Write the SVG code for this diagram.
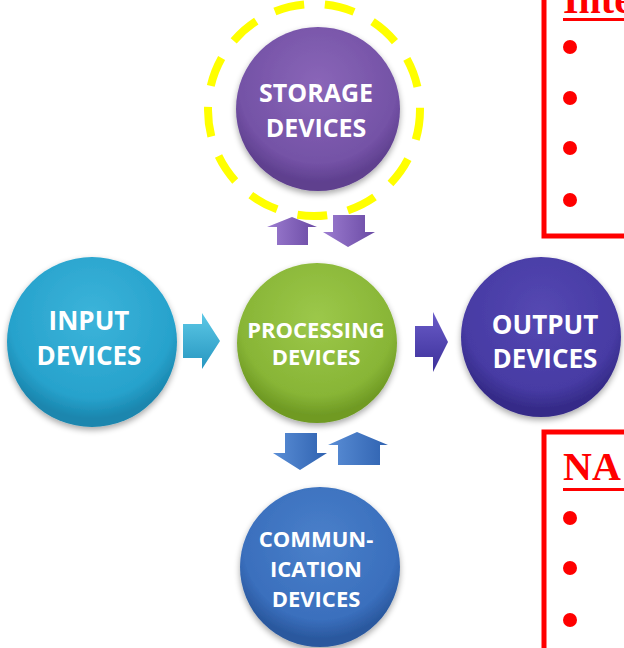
<svg xmlns="http://www.w3.org/2000/svg" width="624" height="648" viewBox="0 0 624 648">
<defs>
<radialGradient id="gStor" cx="50%" cy="35%" r="60%"><stop offset="0" stop-color="#8a66b8"/><stop offset="0.8" stop-color="#7452a6"/><stop offset="1" stop-color="#5e3f8e"/></radialGradient>
<radialGradient id="gIn" cx="50%" cy="35%" r="60%"><stop offset="0" stop-color="#3cb4da"/><stop offset="0.8" stop-color="#27a2cc"/><stop offset="1" stop-color="#1a86ae"/></radialGradient>
<radialGradient id="gProc" cx="50%" cy="35%" r="60%"><stop offset="0" stop-color="#9cc84a"/><stop offset="0.8" stop-color="#88b536"/><stop offset="1" stop-color="#6f9a24"/></radialGradient>
<radialGradient id="gOut" cx="50%" cy="35%" r="60%"><stop offset="0" stop-color="#5548b2"/><stop offset="0.8" stop-color="#473ba4"/><stop offset="1" stop-color="#352b88"/></radialGradient>
<radialGradient id="gCom" cx="50%" cy="35%" r="60%"><stop offset="0" stop-color="#4a80ca"/><stop offset="0.8" stop-color="#3a6fbd"/><stop offset="1" stop-color="#2a589e"/></radialGradient>
<linearGradient id="aCyan" x1="0" y1="0" x2="0" y2="1"><stop offset="0" stop-color="#5cc8e6"/><stop offset="1" stop-color="#2696c0"/></linearGradient>
<linearGradient id="aPur" x1="0" y1="0" x2="1" y2="0"><stop offset="0" stop-color="#9c7cd0"/><stop offset="1" stop-color="#6a4aa4"/></linearGradient>
<linearGradient id="aInd" x1="0" y1="0" x2="0" y2="1"><stop offset="0" stop-color="#6a5cc8"/><stop offset="1" stop-color="#3c309a"/></linearGradient>
<linearGradient id="aBlue" x1="0" y1="0" x2="1" y2="0"><stop offset="0" stop-color="#5a8ed6"/><stop offset="1" stop-color="#2f62b0"/></linearGradient>
<filter id="sh" x="-20%" y="-20%" width="140%" height="140%"><feGaussianBlur in="SourceAlpha" stdDeviation="3"/><feOffset dy="3"/><feComponentTransfer><feFuncA type="linear" slope="0.35"/></feComponentTransfer><feMerge><feMergeNode/><feMergeNode in="SourceGraphic"/></feMerge></filter>
</defs>
<style>
.lbl{font-family:"Open Sans","DejaVu Sans",sans-serif;font-weight:bold;fill:#ffffff;text-anchor:middle}
.red{fill:none;stroke:#ff0000;stroke-width:5}
.bul{fill:#ff0000}
.ttl{font-family:"Liberation Serif","Times New Roman",serif;font-weight:bold;fill:#ff0000;font-size:40px}
</style>
<rect width="624" height="648" fill="#ffffff"/>
<g id="connectors">
<polygon points="183,324 202,324 202,313 220,341 202,369 202,358 183,358" fill="url(#aCyan)"/>
<polygon points="415,326 433,326 433,312 448,342 433,372 433,357 415,357" fill="url(#aInd)"/>
<polygon points="277,245 277,227 267,227 292,217 317,227 308,227 308,245" fill="url(#aPur)"/>
<polygon points="333,215 365,215 365,232 375,232 348,247 323,232 333,232" fill="url(#aPur)"/>
<polygon points="285,433 317,433 317,453 327,453 300,470 273,453 285,453" fill="url(#aBlue)"/>
<polygon points="338,465 338,445 328,445 357,432 388,445 380,445 380,465" fill="url(#aBlue)"/>
</g>
<g id="storage">
<circle cx="318" cy="109" r="82" fill="url(#gStor)" filter="url(#sh)"/>
<text class="lbl" x="316" y="102" font-size="25">STORAGE</text>
<text class="lbl" x="316" y="137" font-size="25">DEVICES</text>
</g>
<g id="highlight">
<circle cx="314" cy="110" r="106" fill="none" stroke="#ffff00" stroke-width="8" stroke-dasharray="30 21"/>
</g>
<g id="input">
<circle cx="92" cy="342" r="85" fill="url(#gIn)" filter="url(#sh)"/>
<text class="lbl" x="89" y="330" font-size="26">INPUT</text>
<text class="lbl" x="89" y="365" font-size="26">DEVICES</text>
</g>
<g id="processing">
<circle cx="317" cy="343" r="80" fill="url(#gProc)" filter="url(#sh)"/>
<text class="lbl" x="316" y="338" font-size="22">PROCESSING</text>
<text class="lbl" x="316" y="365" font-size="22">DEVICES</text>
</g>
<g id="output">
<circle cx="541" cy="337" r="80" fill="url(#gOut)" filter="url(#sh)"/>
<text class="lbl" x="545" y="334" font-size="26">OUTPUT</text>
<text class="lbl" x="545" y="368" font-size="26">DEVICES</text>
</g>
<g id="communication">
<circle cx="320" cy="567" r="80" fill="url(#gCom)" filter="url(#sh)"/>
<text class="lbl" x="316" y="547" font-size="22">COMMUN-</text>
<text class="lbl" x="316" y="577" font-size="22">ICATION</text>
<text class="lbl" x="316" y="607" font-size="22">DEVICES</text>
</g>
<g id="box-top">
<rect x="544" y="-20" width="100" height="256" class="red"/>
<text class="ttl" x="563" y="13">Inte</text>
<rect x="563" y="18" width="70" height="3" fill="#ff0000"/>
<circle cx="570" cy="47" r="7" class="bul"/>
<circle cx="570" cy="98" r="7" class="bul"/>
<circle cx="570" cy="148" r="7" class="bul"/>
<circle cx="570" cy="200" r="7" class="bul"/>
</g>
<g id="box-bottom">
<rect x="544" y="432" width="100" height="240" class="red"/>
<text class="ttl" x="563" y="480">NA</text>
<rect x="563" y="488" width="70" height="3" fill="#ff0000"/>
<circle cx="570" cy="518" r="7" class="bul"/>
<circle cx="570" cy="568" r="7" class="bul"/>
<circle cx="570" cy="620" r="7" class="bul"/>
</g>
</svg>
